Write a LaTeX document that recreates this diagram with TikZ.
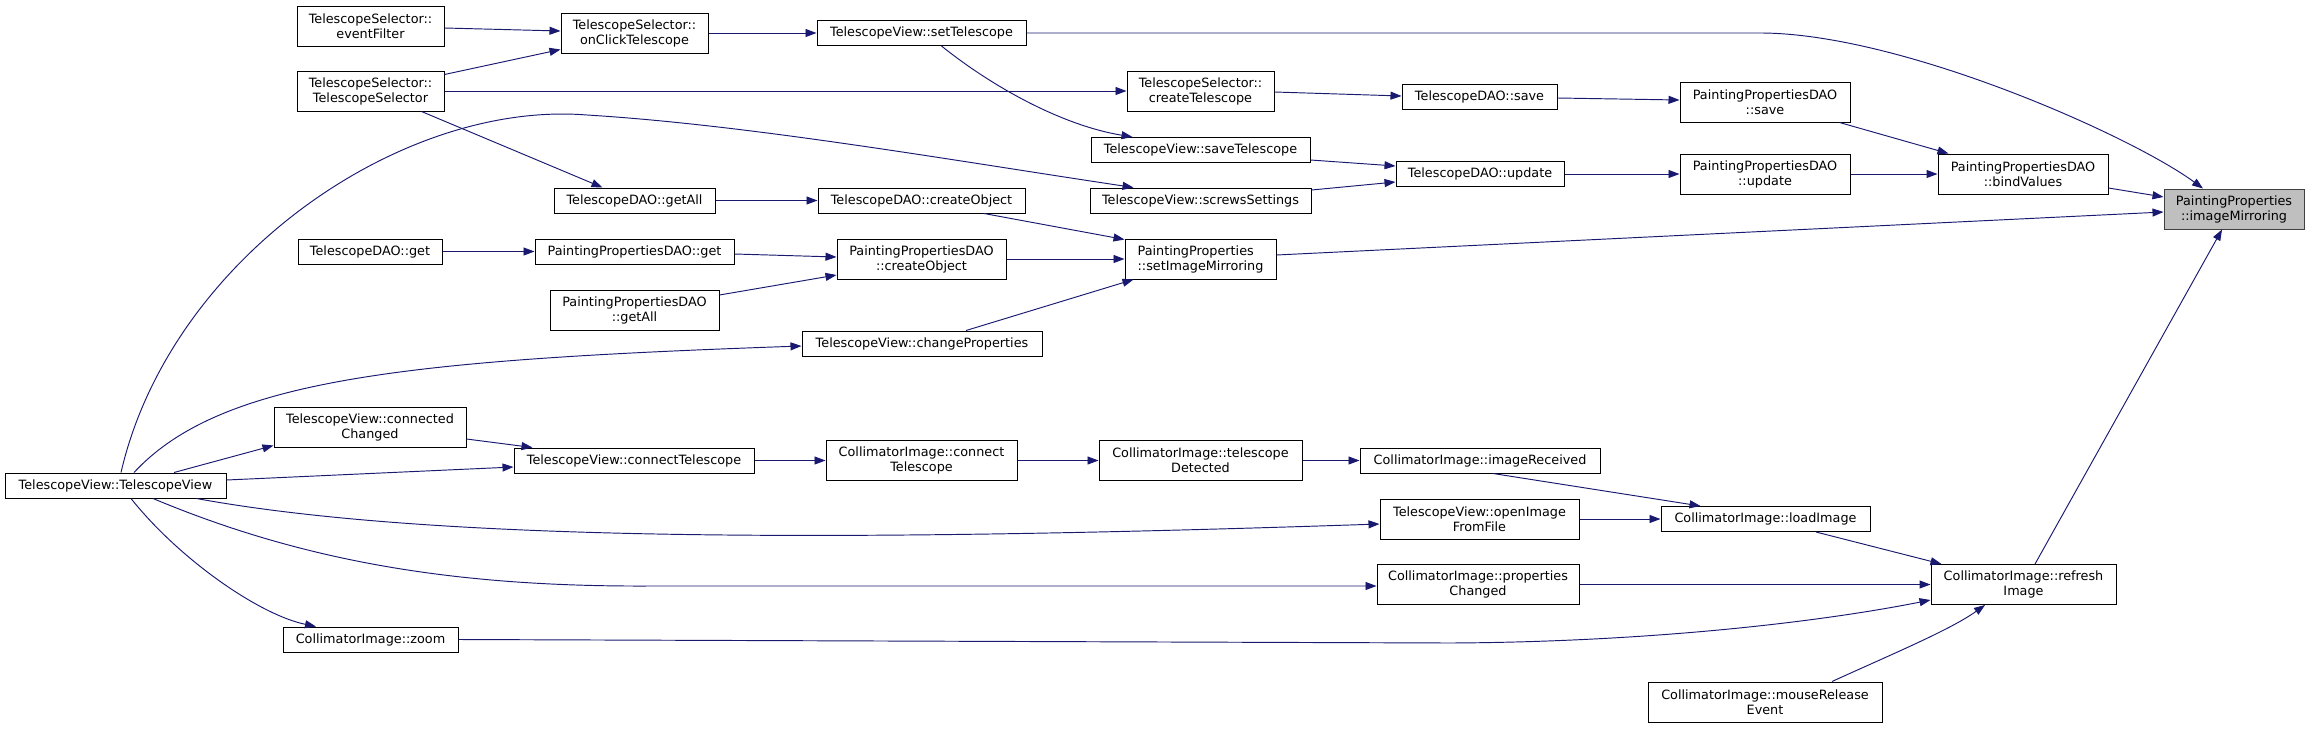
\documentclass[tikz,border=0pt]{standalone}
\usepackage{fontspec}
\setmainfont{DejaVu Sans}
\usetikzlibrary{arrows.meta}
\definecolor{edgec}{HTML}{191970}
\definecolor{rootfill}{HTML}{BFBFBF}
\definecolor{rootdraw}{HTML}{404040}
\begin{document}
\begin{tikzpicture}[x=1pt,y=1pt,
  fn/.style={draw=black, line width=1.0pt, fill=white, inner sep=0pt, align=center,
    font=\fontsize{12.8}{15}\selectfont},
  one/.style={fn, minimum height=25pt},
  two/.style={fn, minimum height=40pt},
  rootbox/.style={two, fill=rootfill, draw=rootdraw},
  call/.style={draw=edgec, line width=0.95pt, -{Triangle[length=11pt,width=8pt]}}]
\useasboundingbox (0,0) rectangle (2309,-728);
% column A
\node[one, minimum width=221pt] (tvctor) at (115.5,-485.5) {TelescopeView::TelescopeView};
% column B
\node[two, minimum width=147pt] (evf) at (370.5,-26) {TelescopeSelector::\\eventFilter};
\node[two, minimum width=147pt] (tsctor) at (370.5,-91) {TelescopeSelector::\\TelescopeSelector};
\node[one, minimum width=144pt] (tdget) at (370,-251.5) {TelescopeDAO::get};
\node[two, minimum width=192pt] (conch) at (370,-427) {TelescopeView::connected\\Changed};
\node[one, minimum width=175pt] (zoom) at (370.5,-639.5) {CollimatorImage::zoom};
% column C
\node[two, minimum width=147pt] (onclick) at (634.5,-33) {TelescopeSelector::\\onClickTelescope};
\node[one, minimum width=161pt] (tdgetall) at (634.5,-200.5) {TelescopeDAO::getAll};
\node[one, minimum width=199pt] (ppget) at (634.5,-251.5) {PaintingPropertiesDAO::get};
\node[two, minimum width=169pt] (ppgetall) at (634.5,-310) {PaintingPropertiesDAO\\::getAll};
\node[one, minimum width=240pt] (contel) at (634,-460.5) {TelescopeView::connectTelescope};
% column D
\node[one, minimum width=209pt] (settel) at (921.5,-33) {TelescopeView::setTelescope};
\node[one, minimum width=207pt] (tdcreate) at (921.5,-200.5) {TelescopeDAO::createObject};
\node[two, minimum width=169pt] (ppcreate) at (921.5,-259) {PaintingPropertiesDAO\\::createObject};
\node[one, minimum width=240pt] (chprop) at (922,-343.5) {TelescopeView::changeProperties};
\node[two, minimum width=191pt] (ciconn) at (921.5,-460.5) {CollimatorImage::connect\\Telescope};
% column E
\node[two, minimum width=147pt] (createtel) at (1200.5,-91) {TelescopeSelector::\\createTelescope};
\node[one, minimum width=219pt] (savetel) at (1200.5,-150) {TelescopeView::saveTelescope};
\node[one, minimum width=221pt] (screws) at (1200.5,-200.5) {TelescopeView::screwsSettings};
\node[two, minimum width=151pt, align=left] (setim) at (1200.5,-259) {PaintingProperties\\::setImageMirroring};
\node[two, minimum width=203pt] (teldet) at (1200.5,-460.5) {CollimatorImage::telescope\\Detected};
% column F
\node[one, minimum width=155pt] (tdsave) at (1479.5,-96.5) {TelescopeDAO::save};
\node[one, minimum width=168pt] (tdupdate) at (1480,-174) {TelescopeDAO::update};
\node[one, minimum width=240pt] (imgrec) at (1480,-460.5) {CollimatorImage::imageReceived};
\node[two, minimum width=199pt] (openimg) at (1479.5,-519) {TelescopeView::openImage\\FromFile};
\node[two, minimum width=202pt] (propch) at (1478,-584.5) {CollimatorImage::properties\\Changed};
% column G
\node[two, minimum width=170pt] (ppsave) at (1765,-102) {PaintingPropertiesDAO\\::save};
\node[two, minimum width=170pt] (ppupdate) at (1765,-174) {PaintingPropertiesDAO\\::update};
\node[one, minimum width=209pt] (loadimg) at (1765.5,-519) {CollimatorImage::loadImage};
\node[two, minimum width=234pt] (mouse) at (1765,-702) {CollimatorImage::mouseRelease\\Event};
% column H
\node[two, minimum width=170pt] (bind) at (2023,-174) {PaintingPropertiesDAO\\::bindValues};
\node[two, minimum width=185pt] (refresh) at (2023.5,-584.5) {CollimatorImage::refresh\\Image};
% root
\node[rootbox, minimum width=140pt] (imgmir) at (2234,-209) {PaintingProperties\\::imageMirroring};

% connectors
\draw[call] ([yshift=-2]evf.east) -- ([yshift=2]onclick.west);
\draw[call] ([yshift=-4]tsctor.north east) -- ([yshift=4]onclick.south west);
\draw[call] (tsctor.east) -- (createtel.west);
\draw[call] ([xshift=-23]tsctor.south east) -- ([xshift=-32]tdgetall.north);
\draw[call] (onclick.east) -- (settel.west);
\draw[call] (settel.east) -- (1760,-33) .. controls (1900,-33) and (2130,-135) .. ([xshift=-31]imgmir.north);
\draw[call] ([xshift=20]settel.south) .. controls (990,-85) and (1060,-125) .. ([xshift=-68]savetel.north);
\draw[call] ([yshift=-1]createtel.east) -- ([yshift=0.5]tdsave.west);
\draw[call] ([yshift=-1.5]tdsave.east) -- ([yshift=2]ppsave.west);
\draw[call] ([xshift=-11]ppsave.south east) -- ([xshift=11]bind.north west);
\draw[call] ([yshift=-10]savetel.east) -- ([yshift=8]tdupdate.west);
\draw[call] ([yshift=10.5]screws.east) -- ([yshift=-8]tdupdate.west);
\draw[call] (tdupdate.east) -- (ppupdate.west);
\draw[call] (ppupdate.east) -- (bind.west);
\draw[call] ([yshift=-14]bind.east) -- ([yshift=12]imgmir.west);
\draw[call] (tdgetall.east) -- (tdcreate.west);
\draw[call] ([xshift=62.5]tdcreate.south) -- ([yshift=-1]setim.north west);
\draw[call] (tdget.east) -- (ppget.west);
\draw[call] ([yshift=-2.5]ppget.east) -- ([yshift=2]ppcreate.west);
\draw[call] ([yshift=15]ppgetall.east) -- ([yshift=-16]ppcreate.west);
\draw[call] (ppcreate.east) -- (setim.west);
\draw[call] ([xshift=44]chprop.north) -- ([xshift=9]setim.south west);
\draw[call] ([yshift=4]setim.east) -- ([yshift=-3]imgmir.west);
\draw[call] ([xshift=5.5]tvctor.north) .. controls (170,-260) and (400,-100) .. (587,-115)
   .. controls (750,-125) and (950,-160) .. ([xshift=44]screws.north west);
\draw[call] ([xshift=18.5]tvctor.north) .. controls (220,-380) and (400,-360) .. ([yshift=-2.5]chprop.west);
\draw[call] ([xshift=58.5]tvctor.north) -- ([yshift=2]conch.south west);
\draw[call] ([yshift=5.5]tvctor.east) -- ([yshift=-6.5]contel.west);
\draw[call] ([yshift=-12]conch.east) -- ([xshift=19]contel.north west);
\draw[call] (contel.east) -- (ciconn.west);
\draw[call] (ciconn.east) -- (teldet.west);
\draw[call] (teldet.east) -- (imgrec.west);
\draw[call] ([xshift=13]imgrec.south) -- ([xshift=40]loadimg.north west);
\draw[call] ([xshift=-30]tvctor.south east) .. controls (450,-545) and (900,-540) .. ([yshift=-5]openimg.west);
\draw[call] (openimg.east) -- (loadimg.west);
\draw[call] ([xshift=50.5]loadimg.south) -- ([xshift=11]refresh.north west);
\draw[call] ([xshift=37.5]tvctor.south) .. controls (300,-560) and (450,-587) .. (650,-586) -- ([yshift=-1.5]propch.west);
\draw[call] (propch.east) -- (refresh.west);
\draw[call] ([xshift=15.5]tvctor.south) .. controls (180,-560) and (260,-615) .. ([xshift=-54.5]zoom.north);
\draw[call] (zoom.east) -- (1450,-643) .. controls (1650,-642) and (1820,-622) .. ([yshift=5]refresh.south west);
\draw[call] ([xshift=67]mouse.north) .. controls (1890,-655) and (1950,-630) .. ([xshift=-38.5]refresh.south);
\draw[call] ([xshift=11.5]refresh.north) -- ([xshift=-12]imgmir.south);
\end{tikzpicture}
\end{document}
